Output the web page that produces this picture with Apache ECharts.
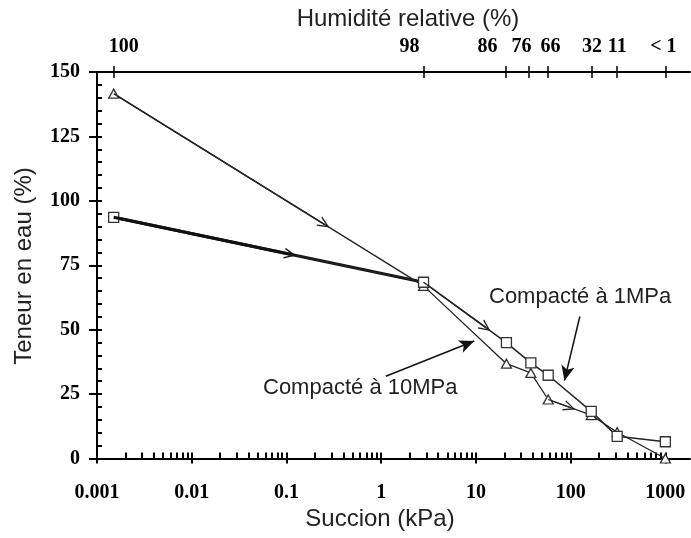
<!DOCTYPE html>
<html><head><meta charset="utf-8">
<script src="https://cdn.jsdelivr.net/npm/echarts@6/dist/echarts.min.js"></script>
<style>html,body{margin:0;padding:0;background:#fff}#c{width:691px;height:538px}</style>
</head><body><div id="c"></div>
<script>
// ---- data ----
const suction = [0.0015, 2.8, 21, 38, 58, 165, 310, 1000];            // kPa
const water1MPa = [93.6, 68.4, 45.0, 37.1, 32.3, 18.3, 8.6, 6.5];      // squares
const water10MPa = [141.6, 67.0, 36.8, 33.2, 22.9, 16.8, 10.2, 0];     // triangles
const suctionTicks = [0.001, 0.01, 0.1, 1, 10, 100, 1000];
const suctionTickLabels = ['0.001', '0.01', '0.1', '1', '10', '100', '1000'];
const humidityTickSuction = [0.0015, 2.8, 20.5, 36, 57, 168, 310, 1000];
const humidityTickLabels = ['100', '98', '86', '76', '66', '32', '11', '< 1'];
const suctionMax = 1820;
// annotation arrows in data units [suction, water]
const arrow10MPa = [[1.12, 31.9], [9.6, 45.6]];
const arrow1MPa = [[125, 55.1], [86, 30.2]];

// label nudges (px) for the top axis, as placed in the reference
const humidityLabelShift = [10, -14, -18, -7, 3, 0, 0, -2];

const LG = Math.log10;
const xMinL = LG(suctionTicks[0]), xMaxL = LG(suctionMax);
const minorTicks = [];
for (let d = 0; d < suctionTicks.length - 1; d++)
  for (let k = 2; k <= 9; k++) minorTicks.push(LG(k * suctionTicks[d]));
const nearestIndex = (v, vals) => {
  let bi = 0, bd = Infinity;
  vals.forEach((s, i) => { const dd = Math.abs(LG(s) - v); if (dd < bd) { bd = dd; bi = i; } });
  return bi;
};
const zip = (xs, ys) => xs.map((x, i) => [x, ys[i]]);
const along = (ys, i, f) => [Math.pow(10, LG(suction[i]) + f * (LG(suction[i + 1]) - LG(suction[i]))), ys[i] + f * (ys[i + 1] - ys[i])];

const BLACK = '#000';
const serif = {fontFamily: 'Liberation Serif, Times New Roman, serif', fontWeight: 'bold', fontSize: 20, color: BLACK};
const sans = 'Liberation Sans, Arial, sans-serif';
const chevron = 'path://M0,10 L5,0 L10,10 L8.6,10 L5,2.6 L1.4,10 Z';

const rich = {};
humidityLabelShift.forEach((dx, i) => {
  rich['h' + i] = Object.assign({padding: [0, dx < 0 ? -2 * dx : 0, 0, dx > 0 ? 2 * dx : 0]}, serif);
});

const hiddenX = (extra) => Object.assign({
  type: 'value', min: xMinL, max: xMaxL, gridIndex: 0,
  splitLine: {show: false}, axisLine: {show: false, onZero: false},
  axisTick: {show: false}, axisLabel: {show: false}
}, extra);

const chart = echarts.init(document.getElementById('c'), null, {renderer: 'canvas'});
chart.setOption({
  animation: false,
  backgroundColor: '#fff',
  grid: {left: 97, right: 1, top: 72, bottom: 79.5, outerBoundsMode: 'none', containLabel: false},
  xAxis: [
    {type: 'log', logBase: 10, min: suctionTicks[0], max: suctionMax, show: false, position: 'bottom', axisLine: {onZero: false}},
    hiddenX({position: 'bottom',
      axisLine: {show: true, onZero: false, lineStyle: {color: BLACK, width: 2}},
      axisTick: {show: true, inside: false, length: 5, customValues: suctionTicks.map(LG), lineStyle: {color: BLACK, width: 2}},
      axisLabel: Object.assign({show: true, margin: 24, customValues: suctionTicks.map(LG),
        formatter: v => suctionTickLabels[nearestIndex(v, suctionTicks)]}, serif)}),
    hiddenX({position: 'bottom',
      axisTick: {show: true, inside: true, length: 6, customValues: suctionTicks.map(LG).concat(minorTicks), lineStyle: {color: BLACK, width: 2}}}),
    hiddenX({position: 'top',
      axisLine: {show: true, onZero: false, lineStyle: {color: BLACK, width: 2}},
      axisTick: {show: true, inside: false, length: 6, customValues: humidityTickSuction.map(LG), lineStyle: {color: BLACK, width: 1.5}},
      axisLabel: Object.assign({show: true, margin: 15, customValues: humidityTickSuction.map(LG), rich: rich,
        formatter: v => { const i = nearestIndex(v, humidityTickSuction); return '{h' + i + '|' + humidityTickLabels[i] + '}'; }}, serif)}),
    hiddenX({position: 'top',
      axisTick: {show: true, inside: true, length: 6, customValues: humidityTickSuction.map(LG), lineStyle: {color: BLACK, width: 1.5}}})
  ],
  yAxis: [
    {type: 'value', min: 0, max: 150, interval: 25, position: 'left',
      axisLine: {show: true, onZero: false, lineStyle: {color: BLACK, width: 2}},
      axisTick: {show: true, inside: false, length: 8, lineStyle: {color: BLACK, width: 2}},
      axisLabel: Object.assign({margin: 17}, serif),
      splitLine: {show: false}},
    {type: 'value', min: 0, max: 150, interval: 25, position: 'left',
      axisLine: {show: false, onZero: false},
      axisTick: {show: true, inside: true, length: 5, lineStyle: {color: BLACK, width: 2}},
      minorTick: {show: true, splitNumber: 5, length: 5, lineStyle: {color: BLACK, width: 2}},
      axisLabel: {show: false}, splitLine: {show: false}}
  ],
  series: [
    {type: 'line', name: 'thick', xAxisIndex: 0, yAxisIndex: 0, silent: true, z: 2,
      data: zip(suction.slice(0, 2), water1MPa.slice(0, 2)), symbol: 'none',
      lineStyle: {color: '#111', width: 3},
      markLine: {silent: true, symbol: ['none', chevron], symbolSize: [11, 12], label: {show: false},
        lineStyle: {color: '#111', width: 3, type: 'solid'},
        data: [[{coord: [suction[0], water1MPa[0]]}, {coord: along(water1MPa, 0, 0.57)}]]}},
    {type: 'line', name: 'Compacté à 10MPa', xAxisIndex: 0, yAxisIndex: 0, silent: true, z: 3,
      data: zip(suction, water10MPa), symbol: 'triangle', symbolSize: [10, 9],
      itemStyle: {color: '#fff', borderColor: '#333', borderWidth: 1.3},
      lineStyle: {color: '#222', width: 1.3},
      markLine: {silent: true, symbol: ['none', chevron], symbolSize: [11, 12], label: {show: false},
        lineStyle: {color: '#222', width: 1.3, type: 'solid'},
        data: [
          [{coord: [suction[0], water10MPa[0]]}, {coord: along(water10MPa, 0, 0.68)}],
          [{coord: [suction[4], water10MPa[4]]}, {coord: along(water10MPa, 4, 0.5)}],
          [{coord: arrow10MPa[0], symbol: 'none'}, {coord: arrow10MPa[1], symbol: 'arrow', symbolSize: [10, 15], lineStyle: {color: '#111', width: 1.5}}]
        ]}},
    {type: 'line', name: 'Compacté à 1MPa', xAxisIndex: 0, yAxisIndex: 0, silent: true, z: 4,
      data: zip(suction, water1MPa), symbol: 'rect', symbolSize: 10,
      itemStyle: {color: '#fff', borderColor: '#333', borderWidth: 1.3},
      lineStyle: {color: '#222', width: 1.5},
      markLine: {silent: true, symbol: ['none', chevron], symbolSize: [11, 12], label: {show: false},
        lineStyle: {color: '#222', width: 1.5, type: 'solid'},
        data: [
          [{coord: [suction[1], water1MPa[1]]}, {coord: along(water1MPa, 1, 0.75)}],
          [{coord: arrow1MPa[0], symbol: 'none'}, {coord: arrow1MPa[1], symbol: 'arrow', symbolSize: [10, 15], lineStyle: {color: '#111', width: 1.5}}]
        ]}}
  ],
  graphic: [
    {type: 'text', x: 408, y: 19, style: {text: 'Humidité relative (%)', font: '24px ' + sans, fill: '#222', textAlign: 'center', textVerticalAlign: 'middle'}},
    {type: 'text', x: 380, y: 519, style: {text: 'Succion (kPa)', font: '24px ' + sans, fill: '#222', textAlign: 'center', textVerticalAlign: 'middle'}},
    {type: 'text', x: 24, y: 266, rotation: Math.PI / 2, style: {text: 'Teneur en eau (%)', font: '24px ' + sans, fill: '#222', textAlign: 'center', textVerticalAlign: 'middle'}},
    {type: 'text', x: 263, y: 388, style: {text: 'Compacté à 10MPa', font: '22px ' + sans, fill: '#222', textAlign: 'left', textVerticalAlign: 'middle'}},
    {type: 'text', x: 489, y: 297, style: {text: 'Compacté à 1MPa', font: '22px ' + sans, fill: '#222', textAlign: 'left', textVerticalAlign: 'middle'}}
  ]
});
</script>
</body></html>
